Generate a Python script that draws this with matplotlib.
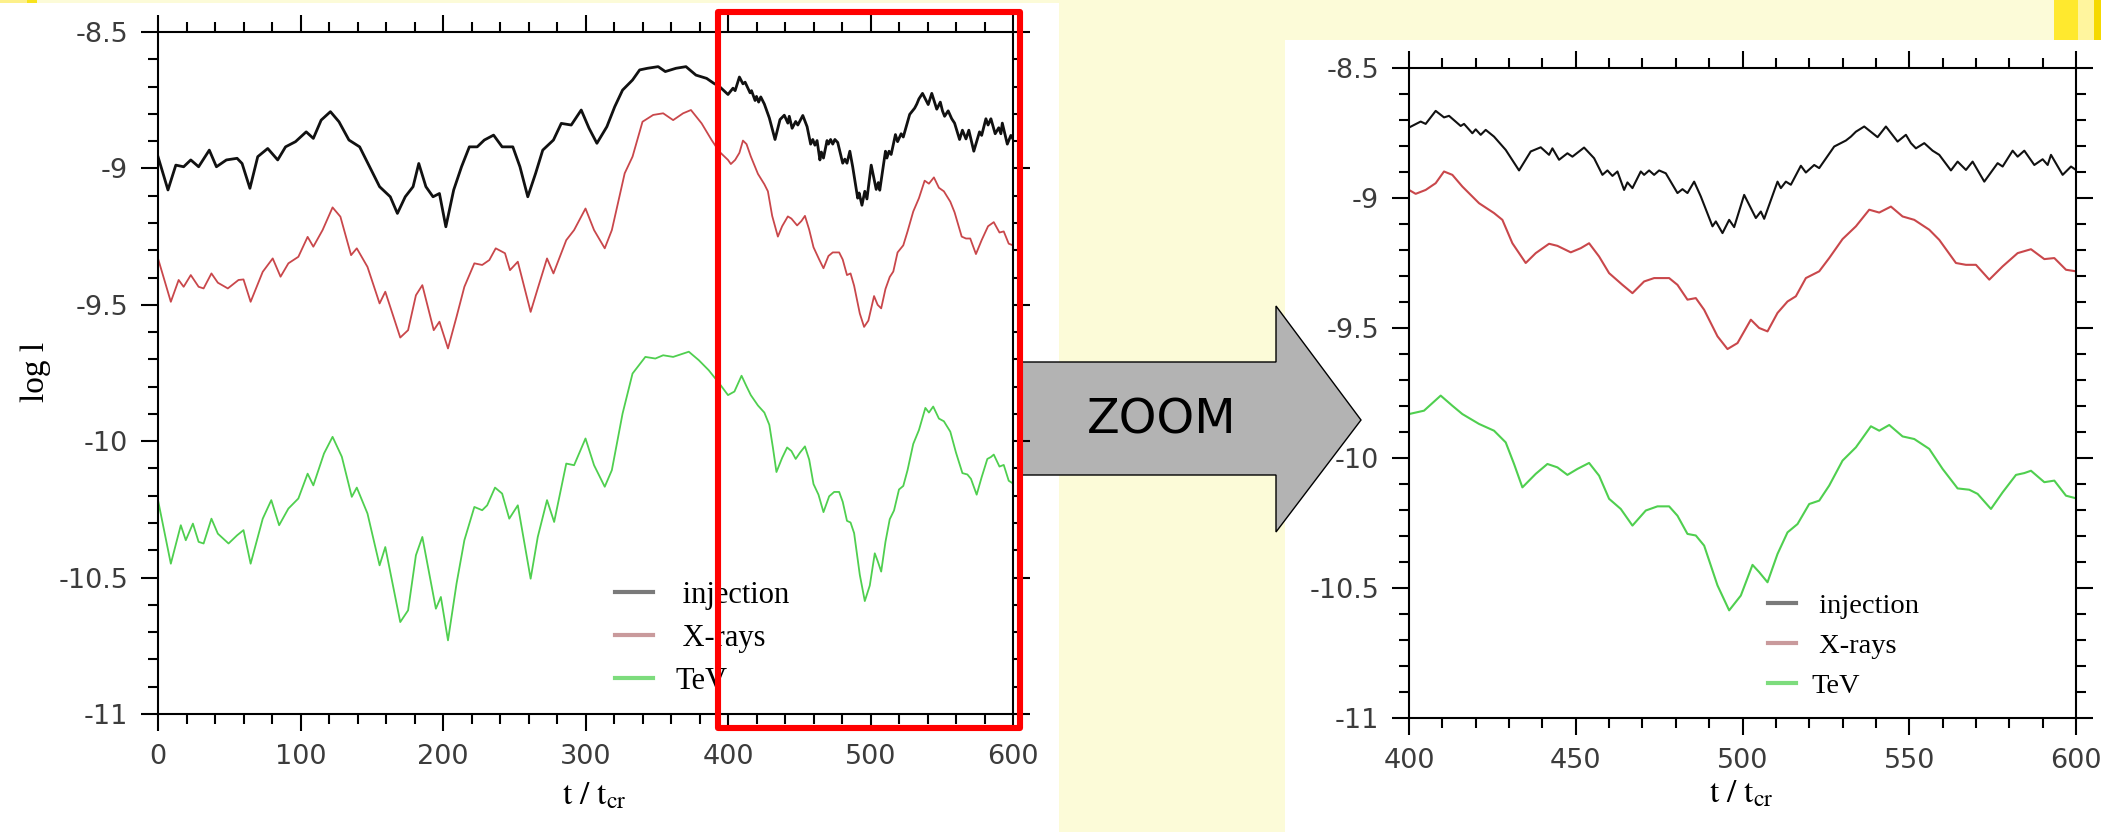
import numpy as np
import matplotlib
matplotlib.use('Agg')
import matplotlib.pyplot as plt
from matplotlib.patches import Rectangle, Polygon
from matplotlib.ticker import MultipleLocator, FuncFormatter

plt.rcParams['axes.unicode_minus'] = False
plt.rcParams['mathtext.fontset'] = 'stix'

#  ----------------------- DATA ----------------------

inj_t = [0, 7, 12.5, 18, 23, 28.5, 36, 41, 48, 55.5,
         59, 64.5, 70, 77, 84, 89.5, 96.5, 104, 109, 114.5,
         121, 127, 134, 141.5, 148.5, 155.5, 163, 168, 173.5, 179,
         183, 188, 193, 197.5, 202, 207.5, 213, 218.5, 224, 229,
         235.5, 241.5, 249, 254, 259.5, 265, 270, 277.5, 283, 290,
         297, 302.5, 308, 315, 320.5, 326, 333, 338, 343.5, 351,
         356, 363.5, 370.5, 377.5, 385, 390, 394,
         400, 403.5, 405, 408, 410.5, 412, 415.5, 416.5, 419, 420,
         421.5, 423, 425.5, 429, 433, 436.5, 439.5, 442, 443, 445,
         447.5, 449, 452.5, 455.5, 458, 459.5, 461, 462.5, 464.5, 465.5,
         467, 469.5, 470.5, 472, 473.5, 475, 477, 480.5, 482, 483.5,
         485.5, 487.5, 491, 492, 494, 496, 497.5, 500.5, 504, 505.5,
         506.5, 510.5, 511.5, 513, 514.5, 517.5, 519, 521.5, 523, 527.5,
         529.5, 531, 532.5, 534, 536.5, 540.5, 543, 546.5, 549, 550.5,
         552, 554.5, 557, 559, 562.5, 564.5, 567, 569, 572.5, 576.5,
         578, 581, 582.5, 584.5, 587.5, 590, 591.5, 592.5, 596, 598.5,
         600]
inj_v = [-8.957, -9.079, -8.988, -8.994, -8.969, -8.994, -8.933, -8.994, -8.969, -8.963,
         -8.982, -9.073, -8.957, -8.927, -8.969, -8.921, -8.902, -8.866, -8.890, -8.823,
         -8.792, -8.829, -8.896, -8.921, -8.994, -9.067, -9.104, -9.165, -9.104, -9.067,
         -8.982, -9.067, -9.104, -9.092, -9.214, -9.079, -8.994, -8.921, -8.921, -8.896,
         -8.878, -8.921, -8.921, -8.994, -9.104, -9.018, -8.933, -8.896, -8.835, -8.841,
         -8.786, -8.853, -8.908, -8.847, -8.774, -8.713, -8.676, -8.639, -8.633, -8.627,
         -8.645, -8.633, -8.627, -8.658, -8.670, -8.688, -8.700,
         -8.729, -8.706, -8.715, -8.665, -8.690, -8.684, -8.723, -8.715, -8.751, -8.736,
         -8.757, -8.738, -8.764, -8.815, -8.894, -8.821, -8.805, -8.834, -8.809, -8.853,
         -8.828, -8.841, -8.806, -8.847, -8.911, -8.894, -8.915, -8.898, -8.969, -8.940,
         -8.962, -8.898, -8.911, -8.894, -8.911, -8.894, -8.905, -8.981, -8.966, -8.981,
         -8.937, -8.994, -9.109, -9.090, -9.135, -9.084, -9.112, -8.988, -9.077, -9.052,
         -9.080, -8.937, -8.962, -8.937, -8.949, -8.876, -8.902, -8.873, -8.885, -8.802,
         -8.789, -8.779, -8.764, -8.745, -8.725, -8.766, -8.725, -8.783, -8.757, -8.789,
         -8.809, -8.789, -8.818, -8.834, -8.894, -8.860, -8.892, -8.860, -8.937, -8.866,
         -8.879, -8.818, -8.841, -8.818, -8.873, -8.851, -8.873, -8.834, -8.911, -8.879,
         -8.892]

xr_t = [0, 9, 14.5, 18, 23, 28.5, 32, 37.5, 42, 49,
        56.5, 60, 65, 73.5, 80.5, 86, 91.5, 98.5, 105, 109,
        115.5, 122.5, 128, 135.5, 139.5, 147, 155.5, 159.5, 170, 175.5,
        181, 185.5, 193.5, 197.5, 203.5, 209.5, 215, 222, 227.5, 232.5,
        237, 243.5, 247, 252.5, 261.5, 266.5, 273, 277.5, 286.5, 292,
        300, 306, 313.5, 318.5, 327.5, 333, 340, 347.5, 354.5, 361.5,
        368.5, 374, 381.5, 388.5, 394,
        400, 402, 405, 408, 410.5, 413, 416, 421, 425.5, 428,
        431, 435, 438, 442, 444.5, 448.5, 451.5, 454, 457, 460,
        464, 467, 470.5, 473.5, 478, 480.5, 483.5, 486, 488.5, 492.5,
        495.5, 498.5, 502.5, 505, 507.5, 510.5, 513.5, 516, 519, 523,
        526, 530, 534, 538, 541, 544.5, 548, 551.5, 556, 559,
        564, 567, 570, 574, 578, 582.5, 586.5, 590.5, 593.5, 597,
        600]
xr_v = [-9.330, -9.489, -9.409, -9.434, -9.391, -9.434, -9.440, -9.385, -9.419, -9.440,
        -9.409, -9.407, -9.489, -9.379, -9.330, -9.397, -9.348, -9.324, -9.251, -9.287,
        -9.226, -9.143, -9.177, -9.318, -9.293, -9.361, -9.495, -9.452, -9.620, -9.593,
        -9.465, -9.428, -9.593, -9.562, -9.660, -9.544, -9.434, -9.348, -9.354, -9.336,
        -9.293, -9.311, -9.373, -9.342, -9.526, -9.440, -9.330, -9.385, -9.263, -9.226,
        -9.147, -9.226, -9.293, -9.226, -9.018, -8.957, -8.829, -8.804, -8.798, -8.823,
        -8.798, -8.786, -8.835, -8.896, -8.939,
        -8.969, -8.984, -8.969, -8.943, -8.898, -8.911, -8.956, -9.020, -9.058, -9.084,
        -9.174, -9.250, -9.212, -9.176, -9.184, -9.209, -9.193, -9.174, -9.225, -9.289,
        -9.334, -9.366, -9.321, -9.308, -9.308, -9.334, -9.391, -9.385, -9.430, -9.532,
        -9.581, -9.558, -9.468, -9.500, -9.513, -9.442, -9.398, -9.378, -9.308, -9.282,
        -9.231, -9.158, -9.109, -9.045, -9.056, -9.033, -9.071, -9.084, -9.122, -9.161,
        -9.250, -9.257, -9.257, -9.314, -9.263, -9.212, -9.197, -9.235, -9.231, -9.276,
        -9.282]

tev_t = [0, 9, 16, 19.5, 24.5, 28.5, 32, 37.5, 42, 49.5,
         55.5, 60, 65, 73.5, 79.5, 85, 91.5, 98.5, 105, 109,
         116.5, 122.5, 129, 136, 139.5, 147, 155.5, 159.5, 170, 175.5,
         181, 185.5, 195, 198.5, 203.5, 209.5, 215, 222, 227.5, 231,
         236.5, 241.5, 246.5, 252.5, 261.5, 266.5, 273, 278, 286.5, 292,
         300, 306, 313.5, 318.5, 326, 333, 342, 349, 354.5, 361.5,
         372.5, 379.5, 386.5, 394,
         400, 404.5, 409.5, 413, 416, 421, 425.5, 429, 431.5, 434,
         438, 441.5, 444.5, 447.5, 450.5, 454, 457, 460, 463.5, 467,
         471, 474.5, 478, 480.5, 483.5, 486, 488.5, 492.5, 496, 499.5,
         503, 505, 507.5, 510.5, 513.5, 516.5, 520, 523, 526, 530,
         534, 538.5, 541, 544, 548, 551.5, 556, 560, 564.5, 568,
         570.5, 574.5, 578, 582, 584.5, 586.5, 590.5, 593.5, 597, 600]
tev_v = [-10.216, -10.449, -10.308, -10.363, -10.302, -10.369, -10.375, -10.284, -10.339, -10.375,
         -10.345, -10.326, -10.449, -10.284, -10.216, -10.308, -10.247, -10.210, -10.119, -10.162,
         -10.045, -9.984, -10.057, -10.204, -10.170, -10.265, -10.455, -10.388, -10.663, -10.620,
         -10.418, -10.351, -10.614, -10.571, -10.730, -10.522, -10.363, -10.241, -10.253, -10.235,
         -10.170, -10.192, -10.284, -10.235, -10.504, -10.351, -10.216, -10.296, -10.082, -10.088,
         -9.990, -10.088, -10.167, -10.106, -9.899, -9.752, -9.691, -9.697, -9.685, -9.691,
         -9.672, -9.703, -9.740, -9.789,
         -9.831, -9.818, -9.760, -9.799, -9.831, -9.869, -9.895, -9.940, -10.023, -10.113,
         -10.061, -10.023, -10.036, -10.065, -10.042, -10.019, -10.068, -10.157, -10.196, -10.260,
         -10.202, -10.186, -10.186, -10.222, -10.292, -10.298, -10.337, -10.490, -10.586, -10.529,
         -10.411, -10.439, -10.478, -10.369, -10.286, -10.254, -10.177, -10.164, -10.106, -10.010,
         -9.959, -9.878, -9.895, -9.873, -9.917, -9.927, -9.965, -10.042, -10.117, -10.122,
         -10.138, -10.196, -10.132, -10.065, -10.058, -10.049, -10.093, -10.087, -10.145, -10.155]

labels = [' injection', ' X-rays', 'TeV']
line_colors = ['#111111', '#c9474b', '#4fcf4f']
legend_colors = ['#7a7a7a', '#c99a9c', '#7ddc7d']

#  ----------------------- FIGURE --------------------------------------------

W, H = 2101, 832
fig = plt.figure(figsize=(W / 100, H / 100), dpi=100, facecolor='#fcfbd8')

# background sheet: white panels, yellow bits, the arrow
bg = fig.add_axes([0, 0, 1, 1])
bg.set_xlim(0, W)
bg.set_ylim(H, 0)
bg.axis('off')
bg.add_patch(Rectangle((0, 3), 1059, H, fc='white', ec='none'))
bg.add_patch(Rectangle((1285, 40), W - 1285, H, fc='white', ec='none'))
bg.add_patch(Rectangle((0, 0), 27, 3, fc='#fdf08a', ec='none'))
bg.add_patch(Rectangle((27, 0), 10, 3, fc='#f8e31c', ec='none'))
bg.add_patch(Rectangle((2054, 0), 24, 40, fc='#ffe92e', ec='none'))
bg.add_patch(Rectangle((2078, 0), 16, 40, fc='#fff59e', ec='none'))
bg.add_patch(Rectangle((2094, 0), 7, 40, fc='#f5d900', ec='none'))
arrow = Polygon([(1021, 362), (1276, 362), (1276, 306), (1361, 420),
                 (1276, 532), (1276, 475), (1021, 475)],
                closed=True, fc='#b3b3b3', ec='black', lw=1.0)
bg.add_patch(arrow)
bg.text(1162, 420, 'ZOOM', ha='center', va='center', fontsize=34.5,
        family='DejaVu Sans', color='black')


def style_axes(ax, xlim, xmajor, xminor):
    ax.set_facecolor('none')
    ax.set_xlim(*xlim)
    ax.set_ylim(-11, -8.5)
    ax.xaxis.set_major_locator(MultipleLocator(xmajor))
    ax.xaxis.set_minor_locator(MultipleLocator(xminor))
    ax.yaxis.set_major_locator(MultipleLocator(0.5))
    ax.yaxis.set_minor_locator(MultipleLocator(0.1))
    ax.yaxis.set_major_formatter(FuncFormatter(lambda v, p: '{:g}'.format(v)))
    ax.tick_params(which='both', direction='out', top=True, right=True,
                   width=1.5, color='black', labelsize=19.5,
                   labelcolor='#3c3c3c', pad=9)
    ax.tick_params(which='major', length=12.5)
    ax.tick_params(which='minor', length=7)
    for s in ax.spines.values():
        s.set_linewidth(1.5)


def add_legend(ax, x, y, size, hlen, hpad, lspace):
    leg = ax.legend(labels, loc='upper left', bbox_to_anchor=(x / W, 1 - y / H),
                    bbox_transform=fig.transFigure, frameon=False,
                    prop={'family': 'Liberation Serif', 'size': size},
                    handlelength=hlen, handletextpad=hpad, labelspacing=lspace,
                    borderpad=0, borderaxespad=0)
    for h, c in zip(leg.legend_handles, legend_colors):
        h.set_color(c)
        h.set_linewidth(3)
    return leg


#  ----------------------- LEFT PANEL ----------------------------------------

ax1 = fig.add_axes([158 / W, 1 - 714 / H, 855 / W, 682 / H])
style_axes(ax1, (0, 600), 100, 20)
ax1.plot(inj_t, inj_v, color=line_colors[0], lw=2.0)
ax1.plot(xr_t, xr_v, color=line_colors[1], lw=1.3)
ax1.plot(tev_t, tev_v, color=line_colors[2], lw=1.3)
add_legend(ax1, 615, 581, 22, 1.25, 0.72, 0.46)

# the red frame marking the zoomed range
ax1.add_patch(Rectangle((393, -11.051), 212, 2.624, fill=False, ec='#ff0000',
                        lw=4.4, joinstyle='round', clip_on=False, zorder=10))

fig.text(36 / W, 1 - 372 / H, 'log l', rotation=90, ha='center', va='center',
         family='Liberation Serif', fontsize=24)
fig.text(594 / W, 1 - 795 / H, r'$\mathrm{t\ /\ t_{cr}}$', ha='center',
         va='center', fontsize=24)

#  ----------------------- RIGHT PANEL ---------------------------------------

ax2 = fig.add_axes([1409 / W, 1 - 718 / H, 667 / W, 650 / H])
style_axes(ax2, (400, 600), 50, 10)
ax2.plot(inj_t, inj_v, color=line_colors[0], lw=1.5)
ax2.plot(xr_t, xr_v, color=line_colors[1], lw=1.5)
ax2.plot(tev_t, tev_v, color=line_colors[2], lw=1.5)
add_legend(ax2, 1768, 593, 20.5, 1.0, 0.53, 0.49)

fig.text(1741 / W, 1 - 793 / H, r'$\mathrm{t\ /\ t_{cr}}$', ha='center',
         va='center', fontsize=24)

fig.savefig('out.png', dpi=100, facecolor=fig.get_facecolor())
